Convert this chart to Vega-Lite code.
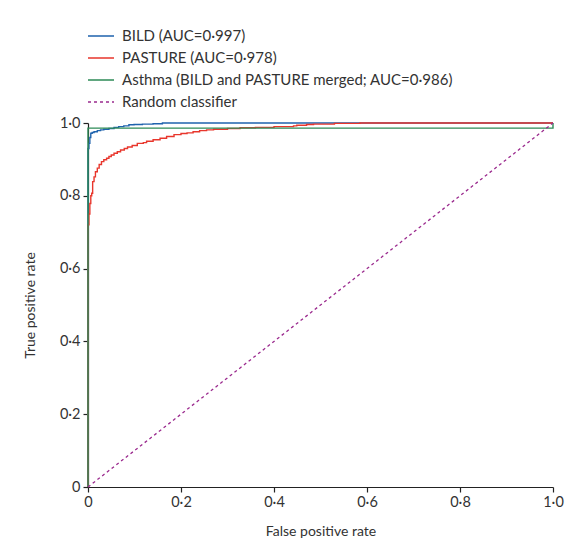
{
  "$schema": "https://vega.github.io/schema/vega-lite/v6.json",
  "width": 465,
  "height": 364,
  "autosize": "none",
  "padding": {"left": 88, "top": 123, "right": 14, "bottom": 60},
  "background": "white",
  "config": {
    "view": {"stroke": null},
    "font": "Lato",
    "axis": {"grid": false, "domainColor": "#222", "tickColor": "#222", "labelColor": "#333", "titleColor": "#333", "labelFontSize": 14.5, "titleFontSize": 14, "titleFontWeight": "normal", "tickSize": 5, "labelPadding": 3, "domainWidth": 1.2, "tickWidth": 1.2}
  },
  "datasets": {
    "bild": [
      {"i": 0, "fpr": 0, "tpr": 0},
      {"i": 1, "fpr": 0, "tpr": 0.926},
      {"i": 2, "fpr": 0.002, "tpr": 0.93},
      {"i": 3, "fpr": 0.004, "tpr": 0.944},
      {"i": 4, "fpr": 0.006, "tpr": 0.96},
      {"i": 5, "fpr": 0.009, "tpr": 0.972},
      {"i": 6, "fpr": 0.013, "tpr": 0.974},
      {"i": 7, "fpr": 0.02, "tpr": 0.976},
      {"i": 8, "fpr": 0.027, "tpr": 0.979},
      {"i": 9, "fpr": 0.034, "tpr": 0.981},
      {"i": 10, "fpr": 0.045, "tpr": 0.983},
      {"i": 11, "fpr": 0.056, "tpr": 0.985},
      {"i": 12, "fpr": 0.066, "tpr": 0.988},
      {"i": 13, "fpr": 0.077, "tpr": 0.99},
      {"i": 14, "fpr": 0.088, "tpr": 0.992},
      {"i": 15, "fpr": 0.099, "tpr": 0.995},
      {"i": 16, "fpr": 0.117, "tpr": 0.996},
      {"i": 17, "fpr": 0.14, "tpr": 0.997},
      {"i": 18, "fpr": 0.16, "tpr": 0.998},
      {"i": 19, "fpr": 0.176, "tpr": 1.0},
      {"i": 20, "fpr": 1, "tpr": 1.0}
    ],
    "pasture": [
      {"i": 0, "fpr": 0, "tpr": 0},
      {"i": 1, "fpr": 0, "tpr": 0.706},
      {"i": 2, "fpr": 0.002, "tpr": 0.72},
      {"i": 3, "fpr": 0.004, "tpr": 0.75},
      {"i": 4, "fpr": 0.006, "tpr": 0.779},
      {"i": 5, "fpr": 0.008, "tpr": 0.8},
      {"i": 6, "fpr": 0.01, "tpr": 0.807},
      {"i": 7, "fpr": 0.013, "tpr": 0.839},
      {"i": 8, "fpr": 0.016, "tpr": 0.852},
      {"i": 9, "fpr": 0.02, "tpr": 0.866},
      {"i": 10, "fpr": 0.024, "tpr": 0.876},
      {"i": 11, "fpr": 0.029, "tpr": 0.886},
      {"i": 12, "fpr": 0.034, "tpr": 0.894},
      {"i": 13, "fpr": 0.04, "tpr": 0.899},
      {"i": 14, "fpr": 0.045, "tpr": 0.903},
      {"i": 15, "fpr": 0.05, "tpr": 0.908},
      {"i": 16, "fpr": 0.056, "tpr": 0.912},
      {"i": 17, "fpr": 0.063, "tpr": 0.917},
      {"i": 18, "fpr": 0.07, "tpr": 0.921},
      {"i": 19, "fpr": 0.078, "tpr": 0.926},
      {"i": 20, "fpr": 0.085, "tpr": 0.93},
      {"i": 21, "fpr": 0.095, "tpr": 0.934},
      {"i": 22, "fpr": 0.106, "tpr": 0.938},
      {"i": 23, "fpr": 0.119, "tpr": 0.944},
      {"i": 24, "fpr": 0.126, "tpr": 0.946},
      {"i": 25, "fpr": 0.14, "tpr": 0.95},
      {"i": 26, "fpr": 0.155, "tpr": 0.954},
      {"i": 27, "fpr": 0.169, "tpr": 0.958},
      {"i": 28, "fpr": 0.185, "tpr": 0.963},
      {"i": 29, "fpr": 0.2, "tpr": 0.968},
      {"i": 30, "fpr": 0.213, "tpr": 0.971},
      {"i": 31, "fpr": 0.226, "tpr": 0.973},
      {"i": 32, "fpr": 0.24, "tpr": 0.976},
      {"i": 33, "fpr": 0.255, "tpr": 0.979},
      {"i": 34, "fpr": 0.27, "tpr": 0.981},
      {"i": 35, "fpr": 0.3, "tpr": 0.983},
      {"i": 36, "fpr": 0.327, "tpr": 0.985},
      {"i": 37, "fpr": 0.36, "tpr": 0.987},
      {"i": 38, "fpr": 0.4, "tpr": 0.988},
      {"i": 39, "fpr": 0.442, "tpr": 0.99},
      {"i": 40, "fpr": 0.449, "tpr": 0.992},
      {"i": 41, "fpr": 0.47, "tpr": 0.994},
      {"i": 42, "fpr": 0.485, "tpr": 0.996},
      {"i": 43, "fpr": 0.53, "tpr": 0.997},
      {"i": 44, "fpr": 0.585, "tpr": 0.999},
      {"i": 45, "fpr": 0.6, "tpr": 1.0},
      {"i": 46, "fpr": 1, "tpr": 1.0}
    ],
    "asthma": [
      {"i": 0, "fpr": 0, "tpr": 0},
      {"i": 1, "fpr": 0, "tpr": 0.986},
      {"i": 2, "fpr": 1, "tpr": 0.986},
      {"i": 3, "fpr": 1, "tpr": 1.0}
    ],
    "random": [
      {"i": 0, "fpr": 0, "tpr": 0},
      {"i": 1, "fpr": 1, "tpr": 1}
    ]
  },
  "layer": [
    {
      "data": {"name": "bild"},
      "transform": [{"calculate": "'BILD (AUC=0·997)'", "as": "series"}],
      "mark": {"type": "line", "interpolate": "step-before", "strokeWidth": 1.4},
      "encoding": {
        "x": {"field": "fpr", "type": "quantitative"},
        "y": {"field": "tpr", "type": "quantitative"},
        "order": {"field": "i"},
        "color": {"field": "series"},
        "strokeDash": {"field": "series"}
      }
    },
    {
      "data": {"name": "pasture"},
      "transform": [{"calculate": "'PASTURE (AUC=0·978)'", "as": "series"}],
      "mark": {"type": "line", "interpolate": "step-before", "strokeWidth": 1.4},
      "encoding": {
        "x": {"field": "fpr", "type": "quantitative"},
        "y": {"field": "tpr", "type": "quantitative"},
        "order": {"field": "i"},
        "color": {"field": "series"},
        "strokeDash": {"field": "series"}
      }
    },
    {
      "data": {"name": "asthma"},
      "transform": [{"calculate": "'Asthma (BILD and PASTURE merged; AUC=0·986)'", "as": "series"}],
      "mark": {"type": "line", "strokeWidth": 1.4},
      "encoding": {
        "x": {"field": "fpr", "type": "quantitative"},
        "y": {"field": "tpr", "type": "quantitative"},
        "order": {"field": "i"},
        "color": {"field": "series"},
        "strokeDash": {"field": "series"}
      }
    },
    {
      "data": {"name": "random"},
      "transform": [{"calculate": "'Random classifier'", "as": "series"}],
      "mark": {"type": "line", "strokeWidth": 1.3},
      "encoding": {
        "x": {"field": "fpr", "type": "quantitative", "scale": {"domain": [0, 1], "nice": false, "zero": true},
          "axis": {"values": [0, 0.2, 0.4, 0.6, 0.8, 1], "labelExpr": "datum.value == 0 ? '0' : replace(format(datum.value, '.1f'), '.', '·')", "title": "False positive rate", "titlePadding": 16, "labelFlush": false}},
        "y": {"field": "tpr", "type": "quantitative", "scale": {"domain": [0, 1], "nice": false},
          "axis": {"values": [0, 0.2, 0.4, 0.6, 0.8, 1], "labelExpr": "datum.value == 0 ? '0' : replace(format(datum.value, '.1f'), '.', '·')", "title": "True positive rate", "titlePadding": 22, "labelFlush": false}},
        "order": {"field": "i"},
        "color": {"field": "series", "type": "nominal",
          "scale": {"domain": ["BILD (AUC=0·997)", "PASTURE (AUC=0·978)", "Asthma (BILD and PASTURE merged; AUC=0·986)", "Random classifier"],
            "range": ["#1f63ad", "#e8362c", "#2e8b57", "#9b2a8e"]},
          "legend": {"title": null, "orient": "none", "legendX": -1, "legendY": -101, "symbolType": "stroke", "symbolSize": 676, "symbolStrokeWidth": 1.5, "labelFontSize": 15, "labelColor": "#333", "rowPadding": -6, "labelOffset": 7, "labelLimit": 500}},
        "strokeDash": {"field": "series", "type": "nominal",
          "scale": {"domain": ["BILD (AUC=0·997)", "PASTURE (AUC=0·978)", "Asthma (BILD and PASTURE merged; AUC=0·986)", "Random classifier"],
            "range": [[1, 0], [1, 0], [1, 0], [3, 3]]}}
      }
    }
  ]
}
